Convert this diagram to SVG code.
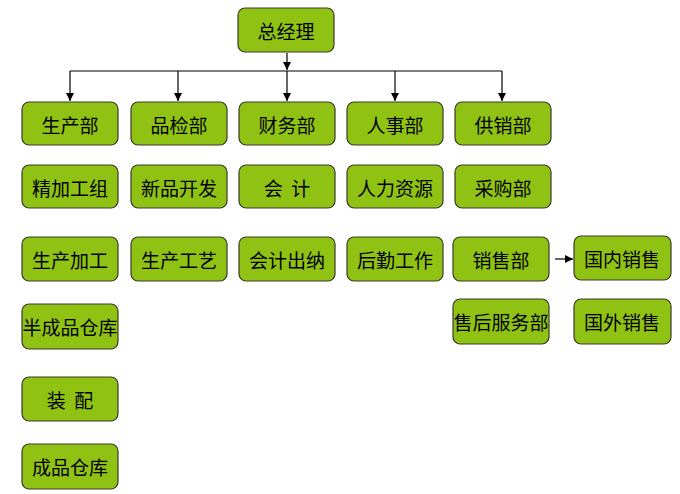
<svg xmlns="http://www.w3.org/2000/svg" width="680" height="494" viewBox="0 0 680 494">
<style>
.b rect{fill:#8fc212;stroke:#3a3a2a;stroke-width:1.2}
.b text{font-family:"Noto Sans CJK SC","Noto Sans",sans-serif;font-size:19px;fill:#000;text-anchor:middle;dominant-baseline:central}
.c{stroke:#000;stroke-width:1.2;fill:none}
</style>
<defs>
<marker id="ah" markerWidth="10" markerHeight="10" refX="9" refY="5" orient="auto" markerUnits="userSpaceOnUse">
<path d="M1,1 L9,5 L1,9 z" fill="#000"/>
</marker>
</defs>
<rect width="680" height="494" fill="#fff"/>
<g id="connectors">
<path class="c" d="M287,53 V70" marker-end="url(#ah)"/>
<path class="c" d="M70,71 H502"/>
<path class="c" d="M70,71 V101" marker-end="url(#ah)"/>
<path class="c" d="M178,71 V101" marker-end="url(#ah)"/>
<path class="c" d="M287,71 V101" marker-end="url(#ah)"/>
<path class="c" d="M395,71 V101" marker-end="url(#ah)"/>
<path class="c" d="M502,71 V101" marker-end="url(#ah)"/>
<path class="c" d="M555,259 H573" marker-end="url(#ah)"/>
</g>
<g id="n0" class="b"><rect x="238" y="8" width="96" height="44" rx="7"/><text x="286" y="30">总经理</text></g>
<g id="n1" class="b"><rect x="22" y="102" width="96" height="43" rx="7"/><text x="70" y="124">生产部</text></g>
<g id="n2" class="b"><rect x="131" y="102" width="96" height="43" rx="7"/><text x="179" y="124">品检部</text></g>
<g id="n3" class="b"><rect x="239" y="102" width="96" height="43" rx="7"/><text x="287" y="124">财务部</text></g>
<g id="n4" class="b"><rect x="347" y="102" width="96" height="43" rx="7"/><text x="395" y="124">人事部</text></g>
<g id="n5" class="b"><rect x="455" y="102" width="96" height="43" rx="7"/><text x="503" y="124">供销部</text></g>
<g id="n6" class="b"><rect x="22" y="165" width="96" height="43" rx="7"/><text x="70" y="187">精加工组</text></g>
<g id="n7" class="b"><rect x="131" y="165" width="96" height="43" rx="7"/><text x="179" y="187">新品开发</text></g>
<g id="n8" class="b"><rect x="239" y="165" width="96" height="43" rx="7"/><text x="287" y="187" xml:space="preserve">会  计</text></g>
<g id="n9" class="b"><rect x="347" y="165" width="96" height="43" rx="7"/><text x="395" y="187">人力资源</text></g>
<g id="n10" class="b"><rect x="455" y="165" width="96" height="43" rx="7"/><text x="503" y="187">采购部</text></g>
<g id="n11" class="b"><rect x="22" y="237" width="96" height="44" rx="7"/><text x="70" y="259">生产加工</text></g>
<g id="n12" class="b"><rect x="131" y="237" width="96" height="44" rx="7"/><text x="179" y="259">生产工艺</text></g>
<g id="n13" class="b"><rect x="239" y="237" width="96" height="44" rx="7"/><text x="287" y="259">会计出纳</text></g>
<g id="n14" class="b"><rect x="347" y="237" width="96" height="44" rx="7"/><text x="395" y="259">后勤工作</text></g>
<g id="n15" class="b"><rect x="453" y="237" width="96" height="44" rx="7"/><text x="501" y="259">销售部</text></g>
<g id="n16" class="b"><rect x="574" y="236" width="97" height="44" rx="7"/><text x="622" y="258">国内销售</text></g>
<g id="n17" class="b"><rect x="22" y="304" width="96" height="45" rx="7"/><text x="70" y="326">半成品仓库</text></g>
<g id="n18" class="b"><rect x="453" y="299" width="96" height="45" rx="7"/><text x="501" y="321">售后服务部</text></g>
<g id="n19" class="b"><rect x="574" y="299" width="97" height="45" rx="7"/><text x="622" y="321">国外销售</text></g>
<g id="n20" class="b"><rect x="22" y="377" width="96" height="44" rx="7"/><text x="70" y="399" xml:space="preserve">装  配</text></g>
<g id="n21" class="b"><rect x="22" y="444" width="96" height="45" rx="7"/><text x="70" y="466">成品仓库</text></g>
</svg>
